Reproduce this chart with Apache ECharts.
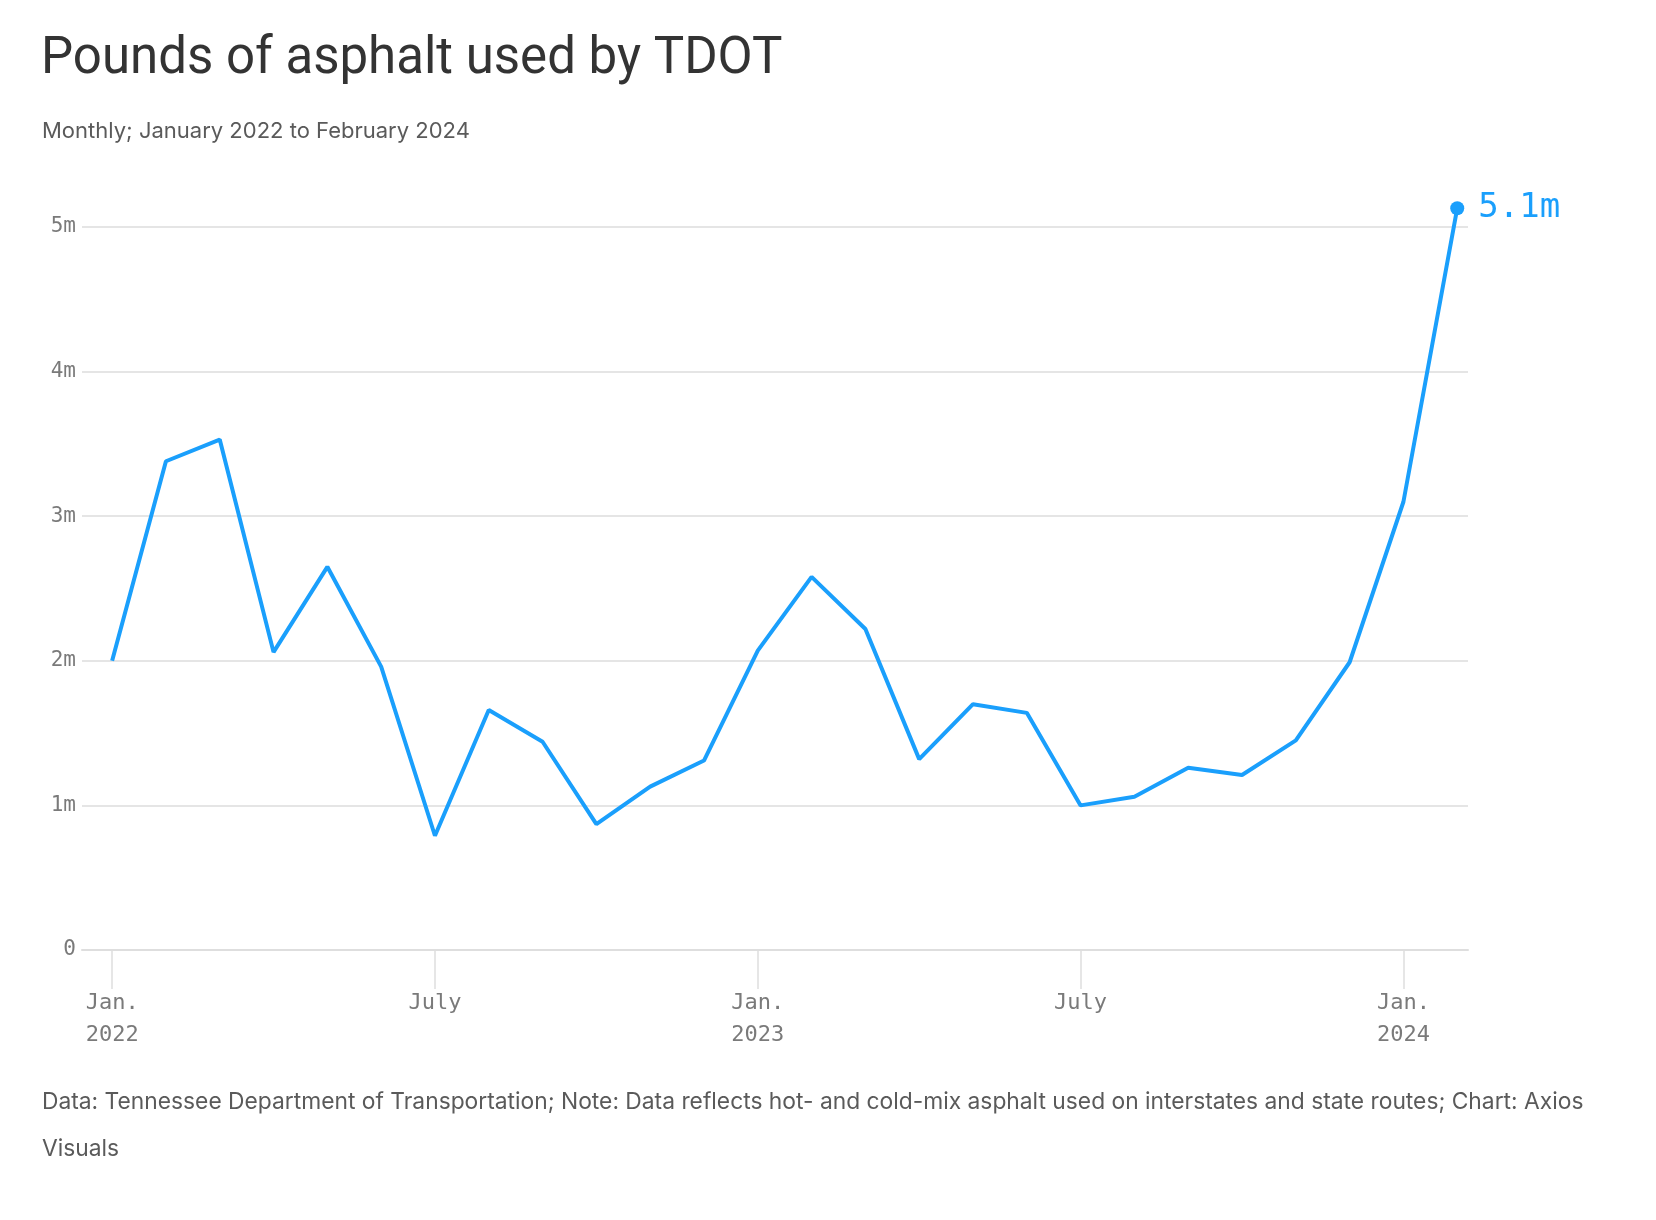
<!DOCTYPE html>
<html>
<head>
<meta charset="utf-8">
<title>Pounds of asphalt used by TDOT</title>
<script src="https://cdn.jsdelivr.net/npm/echarts@6/dist/echarts.min.js"></script>
<style>
  html, body { margin: 0; padding: 0; background: #fff; }
  #chart { width: 1656px; height: 1220px; }
</style>
</head>
<body>
<div id="chart"></div>
<script>
// monthly values, millions of pounds, Jan 2022 .. Feb 2024
var months = ['2022-01','2022-02','2022-03','2022-04','2022-05','2022-06','2022-07','2022-08','2022-09','2022-10','2022-11','2022-12',
              '2023-01','2023-02','2023-03','2023-04','2023-05','2023-06','2023-07','2023-08','2023-09','2023-10','2023-11','2023-12',
              '2024-01','2024-02'];
var pounds = [2.00, 3.38, 3.53, 2.06, 2.65, 1.96, 0.79, 1.66, 1.44, 0.87, 1.13, 1.31,
              2.07, 2.58, 2.22, 1.32, 1.70, 1.64, 1.00, 1.06, 1.26, 1.21, 1.45, 1.99,
              3.10, 5.13];
var tickMonths = [0, 6, 12, 18, 24];
var tickLabels = ['Jan.\n2022', 'July', 'Jan.\n2023', 'July', 'Jan.\n2024'];
var lastLabel = '5.1m';

var blue = '#1a9ffc';
var mono = '"DejaVu Sans Mono", "Liberation Mono", monospace';
var sans = 'Inter, "Noto Sans", sans-serif';

var seriesData = pounds.map(function (v, i) {
	if (i === pounds.length - 1) {
		return {
			value: [i, v],
			symbolSize: 14,
			label: {
				show: true,
				position: 'right',
				distance: 14,
				formatter: lastLabel,
				color: blue,
				fontFamily: mono,
				fontSize: 34
			}
		};
	}
	return { value: [i, v], symbolSize: 0 };
});

var dom = document.getElementById('chart');
var myChart = echarts.init(dom, null, { renderer: 'canvas' });

option = {
	backgroundColor: '#fff',
	animation: false,
	grid: {
		left: 82,
		right: 188,
		top: 227,
		bottom: 270
	},
	graphic: [
		{
			type: 'text', left: 41, top: 35,
			style: { text: 'Pounds of asphalt used by TDOT', fill: '#333', font: '400 51px Roboto, ' + sans }
		},
		{
			type: 'text', left: 42, top: 120,
			style: { text: 'Monthly; January 2022 to February 2024', fill: '#5a5a5a', font: '400 22px ' + sans }
		},
		{
			type: 'text', left: 42, top: 1079,
			style: {
				text: 'Data: Tennessee Department of Transportation; Note: Data reflects hot- and cold-mix asphalt used on interstates and state routes; Chart: Axios\nVisuals',
				fill: '#5a5a5a', font: '400 22.8px ' + sans, lineHeight: 47
			}
		}
	],
	xAxis: {
		type: 'value',
		min: -0.56,
		max: 25.2,
		axisLine: { show: true, onZero: false, lineStyle: { color: '#dedede', width: 2 } },
		axisTick: {
			show: true,
			customValues: tickMonths,
			length: 39,
			lineStyle: { color: '#dedede', width: 1.5 }
		},
		axisLabel: {
			customValues: tickMonths,
			margin: 37,
			color: '#7a7a7a',
			fontFamily: mono,
			fontSize: 22,
			lineHeight: 32,
			formatter: function (v) {
				var k = tickMonths.indexOf(Math.round(v));
				return k >= 0 ? tickLabels[k] : '';
			}
		},
		splitLine: { show: false }
	},
	yAxis: {
		type: 'value',
		min: 0,
		max: 5,
		interval: 1,
		axisLine: { show: false },
		axisTick: { show: false },
		axisLabel: {
			margin: 6,
			color: '#7a7a7a',
			fontFamily: mono,
			fontSize: 21,
			formatter: function (v) { return v === 0 ? '0' : v + 'm'; }
		},
		splitLine: { show: true, lineStyle: { color: '#dcdcdc', width: 1.5 } }
	},
	series: [{
		type: 'line',
		data: seriesData,
		clip: false,
		symbol: 'circle',
		showSymbol: true,
		showAllSymbol: true,
		itemStyle: { color: blue },
		lineStyle: { color: blue, width: 4 },
		label: { show: false },
		emphasis: { disabled: true }
	}]
};

if (option && typeof option === "object") {
	myChart.setOption(option, true);
}
</script>
</body>
</html>
